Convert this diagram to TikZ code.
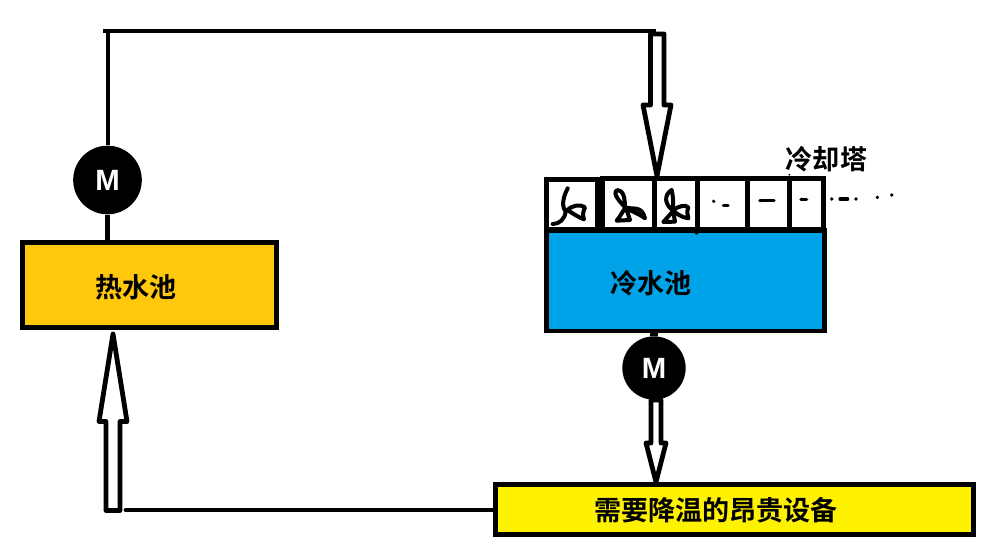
\documentclass[tikz,border=0pt]{standalone}
\usepackage{fontspec}
\setmainfont{Liberation Sans}
\newfontfamily\cjk{Noto Sans CJK SC}[BoldFont={Noto Sans CJK SC Bold}]
\definecolor{hotc}{HTML}{FFC80D}
\definecolor{coldc}{HTML}{00A2E8}
\definecolor{devc}{HTML}{FFF200}
\tikzset{
  pool/.style={draw=black,line width=3.6pt,inner sep=0pt,anchor=north west},
  lbl/.style={font=\cjk\bfseries\fontsize{20.3}{24}\selectfont,text=black,inner sep=0pt},
  motor/.style={circle,fill=black,inner sep=0pt,text=white,font=\bfseries\fontsize{22}{24}\selectfont},
  pipe/.style={line width=3.6pt,black},
  hollow/.style={line width=3.6pt,black,fill=white,line join=round},
  cell/.style={draw=black,line width=3.6pt,fill=white,inner sep=0pt,anchor=north west},
  fan/.style={line width=3pt,black,line cap=round,line join=round},
  speck/.style={line width=2.4pt,black,line cap=round},
}
\begin{document}
\begin{tikzpicture}[x=0.75pt,y=-0.75pt]
\useasboundingbox (0,0) rectangle (990,549);
\fill[white] (0,0) rectangle (990,549);

% pools and device
\node[pool,fill=hotc,minimum width=190.5pt,minimum height=63.75pt] (hot) at (20,240) {};
\node[pool,fill=coldc,minimum width=208.5pt,minimum height=75.5pt] (cold) at (544,228) {};
\node[pool,fill=devc,minimum width=358.5pt,minimum height=37.5pt] (dev) at (493,482) {};
\node[lbl] (hotl) at (136,287) {热水池};
\node[lbl] (coldl) at (651,283) {冷水池};
\node[lbl] (towl) at (826.5,159) {冷却塔};
\node[lbl] (devl) at (716,510) {需要降温的昂贵设备};

% motors
\node[motor,minimum size=51.5pt] (mh) at (107.5,180) {M};
\node[motor,minimum size=47.5pt] (mc) at (654,368) {M};

% plain pipes
\coordinate (tl) at (103,31);
\coordinate (tr) at (656,31);
\coordinate (tv) at (108,31);
\coordinate (bl) at (126,510);
\draw[pipe] (tl) -- (tr);
\draw[pipe] (tv) -- (mh.north -| tv);
\draw[pipe] (mh.south) -- (hot.north -| mh.south);
\draw[pipe,line width=6pt] (cold.south -| mc.north) -- (mc.north);
\draw[pipe,line cap=round] (bl) -- (dev.west |- bl);

% hollow arrows
\draw[hollow] (650.5,34) -- (664,34) -- (664,105) -- (671,105) -- (657,176) -- (643,105) -- (650.5,105) -- cycle;
\draw[hollow] (651,400) -- (661,400) -- (661,443) -- (666,443) -- (656,482) -- (646,443) -- (651,443) -- cycle;
\draw[hollow] (106,510.5) -- (120,510.5) -- (120,421.5) -- (127,421.5) -- (113,334) -- (99,421.5) -- (106,421.5) -- cycle;

% cooling tower cells
\node[cell,minimum width=38.25pt,minimum height=37.5pt] (c1) at (544,177) {};
\node[cell,minimum width=39pt,minimum height=38.25pt] (c2) at (600,176) {};
\node[cell,minimum width=32.25pt,minimum height=38.25pt] (c3) at (652,176) {};
\node[cell,minimum width=37.5pt,minimum height=38.25pt] (c4) at (695,176) {};
\node[cell,minimum width=31.5pt,minimum height=38.25pt] (c5) at (745,176) {};
\node[cell,minimum width=25.5pt,minimum height=38.25pt] (c6) at (787,176) {};
\draw[line width=3.6pt] (544,229) -- (825,229);

% fans and specks, in 3x crop coordinates
\begin{scope}[shift={(530,130)},x=0.25pt,y=-0.25pt]
  \draw[fan] (113,175) .. controls (95,210) and (97,232) .. (107,245) .. controls (104,268) and (88,282) .. (68,282);
  \draw[fan] (112,240) .. controls (130,225) and (150,222) .. (165,232) .. controls (158,245) and (158,258) .. (162,268) .. controls (145,262) and (128,250) .. (112,240);
  \draw[fan] (285,232) .. controls (270,215) and (245,190) .. (262,180) .. controls (280,180) and (285,205) .. (285,232) .. controls (310,240) and (335,225) .. (345,265) .. controls (325,250) and (305,245) .. (285,232);
  \draw[fan] (283,238) .. controls (275,250) and (268,262) .. (260,272) -- (300,270) -- (290,240);
  \draw[fan] (425,180) .. controls (400,195) and (405,225) .. (428,240) .. controls (430,220) and (430,200) .. (425,180);
  \draw[fan] (428,240) .. controls (445,230) and (465,222) .. (475,232) .. controls (470,245) and (472,255) .. (475,265) .. controls (455,262) and (440,252) .. (428,240);
  \draw[fan] (428,245) -- (400,276) -- (435,275) -- (430,245);
  \foreach \a/\b in {551/214,690/212,815/208,905/207,978/207,1042/202,1085/195}
    \fill (\a,\b) circle (5.5);
  \draw[speck] (580,226) -- (594,226);
  \draw[speck] (692,212) -- (732,212);
  \draw[speck] (813,209) -- (830,209);
  \draw[speck] (930,207) -- (953,207);
  \fill (500,308) circle (6);
  \fill (650,302) circle (3);
  \fill (778,134) circle (3);
\end{scope}
\end{tikzpicture}
\end{document}
